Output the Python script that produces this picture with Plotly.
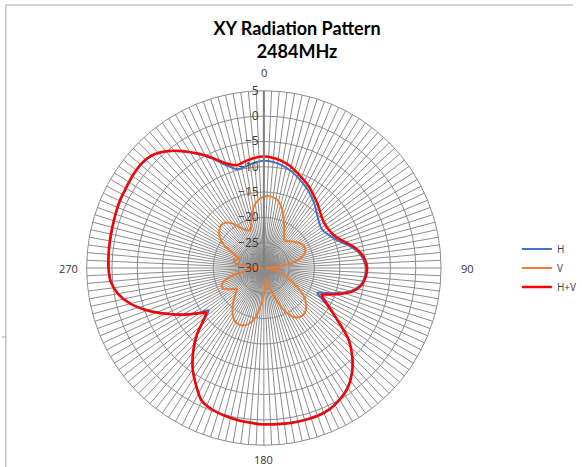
import math
import plotly.graph_objects as go

# Angle (degrees, clockwise from top)
angles = [0, 5, 10, 15, 20, 25, 30, 35, 40, 45, 50, 55, 60, 65, 70, 75, 80, 85, 90, 95, 100, 105, 110,
          112.5, 115, 117.5,
          120, 125, 130, 135, 140, 145, 150, 155, 160, 165, 170, 175, 180, 185, 190, 195, 200, 205, 210, 215, 220, 225, 230,
          232.5,
          235, 240, 245, 250, 255, 260, 265, 270, 275, 280, 285, 290, 295, 300, 305, 310, 315, 320, 325, 330, 335, 340, 345, 350, 355]

h_vals = [-8.8, -9.0, -9.4, -10.0, -10.8, -11.6, -12.4, -13.3, -14.2, -15.1, -15.8, -16.2, -16.0, -15.3, -14.3, -12.7, -11.2, -10.3, -9.8, -10.0, -10.6, -12.3, -15.4,
          -17.2, -18.4, -17.3,
          -15.8, -12.6, -8.3, -5.4, -3.0, -1.2, -0.1, 0.7, 1.0, 1.0, 1.0, 0.9, 0.8, 0.6, 0.4, 0.1, -0.3, -1.1, -3.3, -5.6, -8.4, -11.4, -15.0,
          -16.3,
          -14.7, -11.7, -8.7, -5.6, -2.8, -0.8, 0.3, 0.6, 0.7, 0.8, 0.9, 1.1, 1.3, 1.4, 1.6, 1.7, 1.3, 0.0, -1.9, -4.0, -6.2, -8.4, -9.8, -9.6, -9.1]

v_vals = [-15.9, -15.8, -16.1, -17.2, -18.8, -20.6, -22.0, -23.0, -23.1, -22.5, -22.0, -21.4, -21.0, -21.0, -21.4, -22.5, -24.5, -27.5, -29.5, -29.0, -27.8, -26.5, -25.6,
          -25.0, -24.2, -23.2,
          -22.2, -20.4, -19.1, -18.3, -17.9, -18.1, -19.0, -21.0, -24.0, -26.8, -27.8, -26.5, -24.8, -22.5, -20.0, -18.6, -17.9, -17.8, -18.2, -19.2, -20.4, -21.8, -23.0,
          -23.3,
          -22.8, -21.6, -20.9, -21.3, -23.0, -26.0, -28.5, -29.5, -28.0, -24.2, -24.0, -24.8, -23.5, -20.8, -19.4, -18.5, -18.1, -18.3, -19.3, -20.8, -21.8, -22.0, -20.5, -18.0, -16.6]

hv_vals = [-8.0, -8.2, -8.6, -9.3, -10.2, -11.0, -11.8, -12.7, -13.5, -14.3, -14.9, -15.2, -15.1, -14.7, -13.8, -12.3, -10.9, -10.0, -9.6, -9.8, -10.4, -12.0, -14.8,
           -16.3, -17.4, -16.6,
           -15.4, -12.4, -8.2, -5.3, -2.9, -1.1, 0.0, 0.8, 1.1, 1.1, 1.1, 1.0, 0.9, 0.7, 0.5, 0.2, -0.2, -1.0, -3.2, -5.5, -8.2, -11.2, -14.7,
           -15.6,
           -14.4, -11.5, -8.6, -5.5, -2.7, -0.7, 0.4, 0.7, 0.8, 0.9, 1.0, 1.2, 1.4, 1.5, 1.7, 1.8, 1.4, 0.1, -1.8, -3.9, -6.0, -8.0, -9.0, -8.6, -8.2]

series_names = ["H", "V", "H+V"]
series_colors = ["#4472C4", "#ED7D31", "#FF0000"]
series_widths = [2, 2, 2.5]

# Category spokes and labels
spoke_angles = [i * 2.5 for i in range(144)]
category_labels = ["0", "90", "180", "270"]
category_label_angles = [0, 90, 180, 270]
radial_ticks = [-30, -25, -20, -15, -10, -5, 0, 5]

fig = go.Figure()
for name, vals, col, w in zip(series_names, [h_vals, v_vals, hv_vals], series_colors, series_widths):
    fig.add_trace(go.Scatterpolar(
        r=vals + [vals[0]], theta=angles + [angles[0]],
        mode="lines", name=name,
        line=dict(color=col, width=w, shape="spline", smoothing=0.8),
    ))

W, H = 582, 467
cx, cy, R = 268, 268, 180

# category labels placed just outside the outer ring (Excel-like offsets)
label_offsets = {0: 15, 90: 27, 180: 11, 270: 18}
annotations = []
for txt, ang in zip(category_labels, category_label_angles):
    d = R + label_offsets[ang]
    px = cx + d * math.sin(math.radians(ang))
    py = cy - d * math.cos(math.radians(ang))
    annotations.append(dict(text=txt, x=px / W, y=1 - py / H, xref="paper", yref="paper",
                            xanchor="center", yanchor="middle", showarrow=False,
                            font=dict(family="Open Sans", size=11, color="#333333")))

fig.update_layout(
    width=W, height=H,
    margin=dict(l=0, r=0, t=0, b=0),
    paper_bgcolor="white",
    title=dict(text="<b>XY Radiation Pattern<br>2484MHz</b>", x=297 / W, xanchor="center",
               y=1 - 35 / H, yanchor="middle",
               font=dict(family="Lato", size=18, color="#000000")),
    polar=dict(
        domain=dict(x=[(cx - R) / W, (cx + R) / W], y=[1 - (cy + R) / H, 1 - (cy - R) / H]),
        bgcolor="white",
        angularaxis=dict(
            direction="clockwise", rotation=90,
            tickmode="array", tickvals=spoke_angles,
            showticklabels=False,
            ticks="", showline=True, linecolor="#8c8c8c", linewidth=1,
            gridcolor="#8c8c8c", gridwidth=1,
        ),
        radialaxis=dict(
            range=[-30, 5], tickmode="array", tickvals=radial_ticks,
            angle=90, tickangle=90, side="counterclockwise",
            ticks="", showline=True, linecolor="#808080", linewidth=2,
            gridcolor="#8c8c8c", gridwidth=1,
            tickfont=dict(family="Open Sans", size=12, color="#404040"),
        ),
    ),
    annotations=annotations,
    showlegend=True,
    legend=dict(x=525 / W, y=1 - 268 / H, xanchor="left", yanchor="middle",
                font=dict(family="Open Sans", size=10, color="#404040"),
                bgcolor="rgba(0,0,0,0)"),
    shapes=[
        dict(type="line", xref="paper", yref="paper", x0=6 / W, x1=6 / W, y0=0, y1=1 - 5 / H,
             line=dict(color="#a6a6a6", width=1)),
        dict(type="line", xref="paper", yref="paper", x0=6 / W, x1=1, y0=1 - 5 / H, y1=1 - 5 / H,
             line=dict(color="#a6a6a6", width=1)),
        dict(type="line", xref="paper", yref="paper", x0=2 / W, x1=6 / W, y0=1 - 337 / H, y1=1 - 337 / H,
             line=dict(color="#a6a6a6", width=1)),
    ],
)

fig.write_html("out.html", config={"displayModeBar": False},
               post_script="document.body.style.margin='0';document.body.style.padding='0';document.body.style.overflow='hidden';")
